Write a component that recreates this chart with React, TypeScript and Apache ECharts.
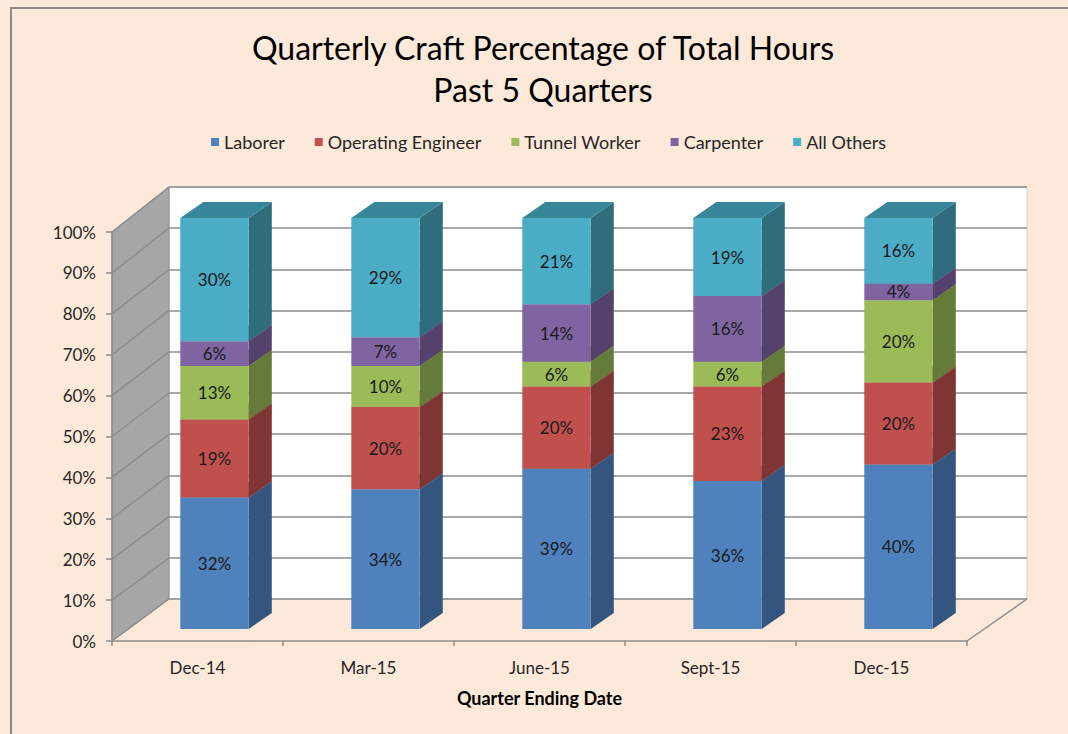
import React, { useEffect, useRef } from "react";
import * as echarts from "echarts";

// ---------- data ----------
const categories = ["Dec-14", "Mar-15", "June-15", "Sept-15", "Dec-15"];
const seriesNames = ["Laborer", "Operating Engineer", "Tunnel Worker", "Carpenter", "All Others"];
const laborer = [32, 34, 39, 36, 40];
const operatingEngineer = [19, 20, 20, 23, 20];
const tunnelWorker = [13, 10, 6, 6, 20];
const carpenter = [6, 7, 14, 16, 4];
const allOthers = [30, 29, 21, 19, 16];
const yTicks = [0, 10, 20, 30, 40, 50, 60, 70, 80, 90, 100];
const titleLines = ["Quarterly Craft Percentage of Total Hours", "Past 5 Quarters"];
const xAxisTitle = "Quarter Ending Date";

// ---------- styles ----------
const FRONT_COLORS = ["#4f81bd", "#c0504d", "#9bbb59", "#8064a2", "#4bacc6"];
const SIDE_COLORS = ["#34557f", "#7f3533", "#647b3a", "#55426c", "#2f6d7d"];
const TOP_COLORS = ["#3f6799", "#9a4140", "#7d9748", "#674f85", "#37869a"];
const FONT = "Lato";
const BG = "#fde9d9";
const GRID_LINE = "#8c8c8c";

// layout (pixels)
const FRONT = { left: 112, top: 232, width: 855, height: 409 };
const BACK = { left: 169, top: 187, width: 858, height: 412 };
const BARS = { left: 129, top: 218, width: 855, height: 411 };
const BAR_W = 0.4;
const DEPTH_X = 0.135;
const DEPTH_Y = -0.094;

const allSeries = [laborer, operatingEngineer, tunnelWorker, carpenter, allOthers];

function buildData(si: number) {
  return categories.map((_, ci) => {
    let base = 0;
    for (let k = 0; k < si; k++) base += allSeries[k][ci];
    const v = allSeries[si][ci];
    return [ci, base, base + v, v];
  });
}

function makeRenderItem(si: number) {
  return (params: any, api: any) => {
    const i = api.value(0);
    const base = api.value(1);
    const top = api.value(2);
    const val = api.value(3);
    const pb = api.coord([i, base]);
    const pt = api.coord([i, top]);
    const band = api.size([1, 0])[0];
    const w = band * BAR_W;
    const dx = band * DEPTH_X;
    const dy = band * DEPTH_Y;
    const x0 = pb[0] - w / 2;
    const x1 = pb[0] + w / 2;
    const yb = pb[1];
    const yt = pt[1];
    return {
      type: "group",
      children: [
        {
          type: "polygon",
          shape: { points: [[x1, yb], [x1 + dx, yb + dy], [x1 + dx, yt + dy], [x1, yt]] },
          style: { fill: SIDE_COLORS[si] },
        },
        {
          type: "polygon",
          shape: { points: [[x0, yt], [x1, yt], [x1 + dx, yt + dy], [x0 + dx, yt + dy]] },
          style: { fill: TOP_COLORS[si] },
        },
        {
          type: "rect",
          shape: { x: x0, y: yt, width: w, height: yb - yt },
          style: { fill: FRONT_COLORS[si] },
        },
        {
          type: "text",
          x: (x0 + x1) / 2,
          y: (yb + yt) / 2,
          style: {
            text: val + "%",
            align: "center",
            verticalAlign: "middle",
            fill: "#1a1a1a",
            font: `17px ${FONT}`,
          },
        },
      ],
    };
  };
}

export default function App() {
  const ref = useRef<HTMLDivElement>(null);
  useEffect(() => {
    if (!ref.current) return;
    const chart = echarts.init(ref.current, null, { renderer: "svg" });
    const axisGrey = { color: GRID_LINE, width: 1.5 };
    const option: any = {
      animation: false,
      backgroundColor: BG,
      legend: {
        data: seriesNames,
        left: 206,
        top: 128,
        icon: "rect",
        itemWidth: 8,
        itemHeight: 8,
        itemGap: 30,
        textStyle: { fontFamily: FONT, fontSize: 18, color: "#262626" },
      },
      grid: [
        { ...FRONT, show: false },
        { ...BACK, show: true, backgroundColor: "#ffffff", borderColor: "#d0d0d0", borderWidth: 1 },
        { ...BARS, show: false },
      ],
      xAxis: [
        {
          gridIndex: 0,
          type: "category",
          data: categories,
          boundaryGap: true,
          axisLine: { show: true, lineStyle: axisGrey },
          axisTick: { show: true, length: 5, lineStyle: axisGrey },
          axisLabel: { margin: 18, fontFamily: FONT, fontSize: 17, color: "#262626" },
          name: xAxisTitle,
          nameLocation: "middle",
          nameGap: 48,
          nameTextStyle: { fontFamily: FONT, fontSize: 18, fontWeight: "bold", color: "#000" },
        },
        { gridIndex: 1, type: "category", data: categories, show: false },
        { gridIndex: 2, type: "category", data: categories, show: false },
      ],
      yAxis: [
        {
          gridIndex: 0,
          type: "value",
          min: 0,
          max: 100,
          interval: 10,
          axisLine: { show: true, lineStyle: axisGrey },
          axisTick: { show: true, length: 6, lineStyle: axisGrey },
          axisLabel: { formatter: "{value}%", margin: 16, fontFamily: FONT, fontSize: 17, color: "#262626" },
          splitLine: { show: false },
        },
        {
          gridIndex: 1,
          type: "value",
          min: 0,
          max: 100,
          interval: 10,
          axisLine: { show: false },
          axisTick: { show: false },
          axisLabel: { show: false },
          splitLine: { show: true, lineStyle: { color: GRID_LINE, width: 1.5 } },
        },
        { gridIndex: 2, type: "value", min: 0, max: 100, interval: 10, show: false },
      ],
      series: seriesNames.map((name, si) => ({
        name,
        type: "custom",
        xAxisIndex: 2,
        yAxisIndex: 2,
        itemStyle: { color: FRONT_COLORS[si] },
        renderItem: makeRenderItem(si),
        data: buildData(si),
        z: 3,
      })),
    };
    chart.setOption(option);

    const yF = (v: number) => chart.convertToPixel({ yAxisIndex: 0 }, v) as number;
    const yB = (v: number) => chart.convertToPixel({ yAxisIndex: 1 }, v) as number;
    const FL = FRONT.left;
    const FR = FRONT.left + FRONT.width;
    const BL = BACK.left;
    const BR = BACK.left + BACK.width;

    const graphic: any[] = [
      {
        type: "rect",
        shape: { x: 11, y: 8, width: 1200, height: 900 },
        style: { fill: "none", stroke: "#8c8c8c", lineWidth: 2 },
        silent: true,
      },
      {
        type: "polygon",
        shape: { points: [[FL, yF(100)], [BL, yB(100)], [BL, yB(0)], [FL, yF(0)]] },
        style: { fill: "#a6a6a6", stroke: GRID_LINE, lineWidth: 1 },
        silent: true,
      },
      ...yTicks.map((v) => ({
        type: "line",
        shape: { x1: FL, y1: yF(v), x2: BL, y2: yB(v) },
        style: { stroke: GRID_LINE, lineWidth: 1.5 },
        silent: true,
      })),
      {
        type: "line",
        shape: { x1: FR, y1: yF(0), x2: BR, y2: yB(0) },
        style: { stroke: GRID_LINE, lineWidth: 1.5 },
        silent: true,
      },
      {
        type: "text",
        x: 543,
        y: 47,
        style: { text: titleLines[0], align: "center", verticalAlign: "middle", font: `32px ${FONT}`, fill: "#000" },
      },
      {
        type: "text",
        x: 543,
        y: 89,
        style: { text: titleLines[1], align: "center", verticalAlign: "middle", font: `32px ${FONT}`, fill: "#000" },
      },
    ];
    chart.setOption({ graphic });

    return () => chart.dispose();
  }, []);
  return <div ref={ref} style={{ position: "absolute", left: 0, top: 0, width: 1068, height: 734 }} />;
}
